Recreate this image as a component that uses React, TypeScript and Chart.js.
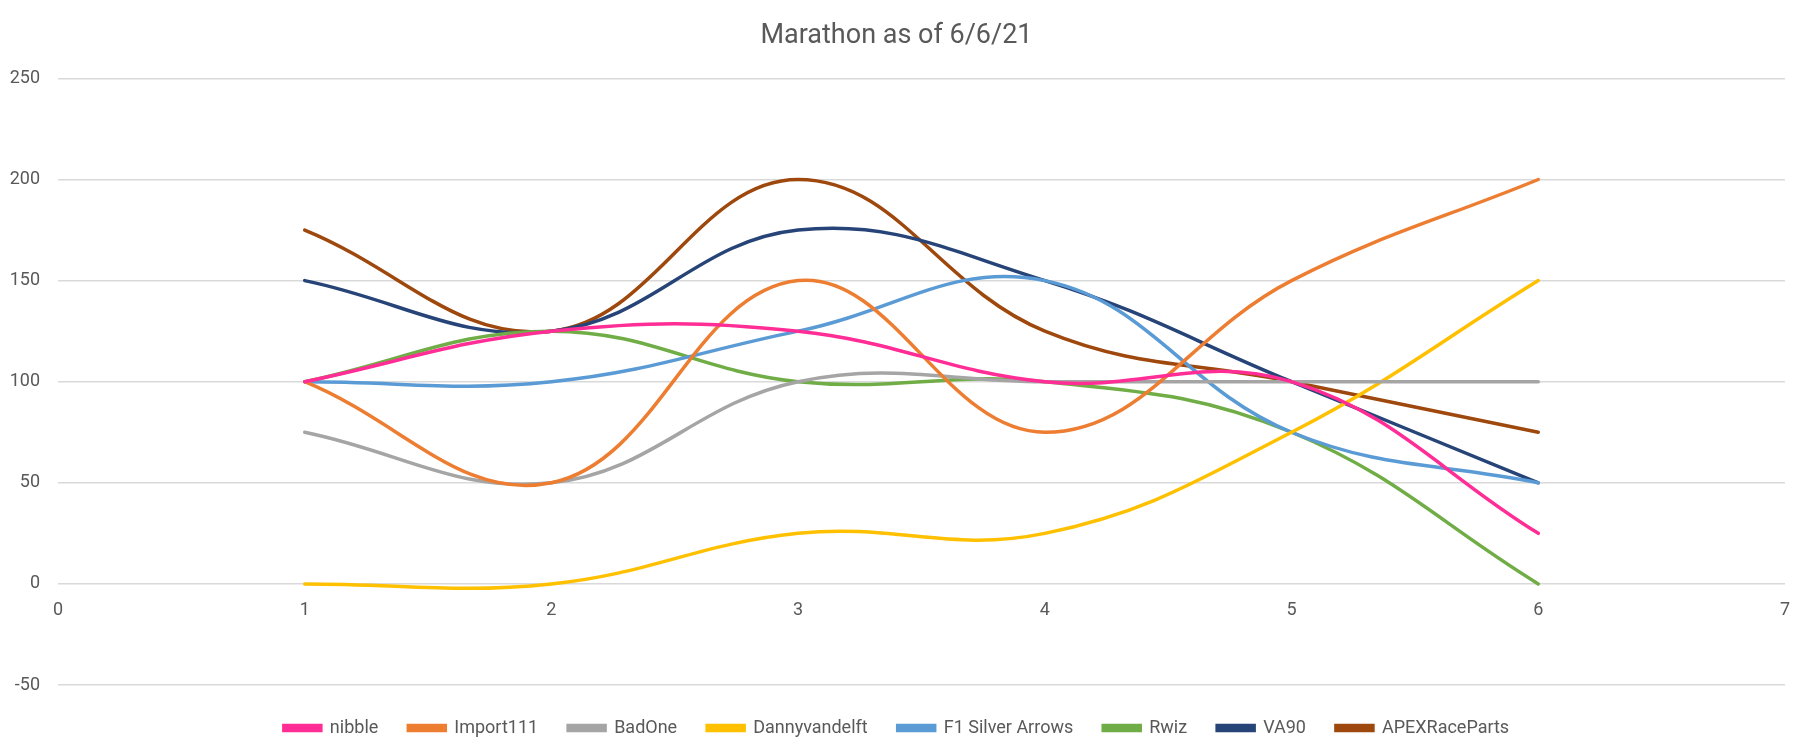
import React, { useEffect, useRef } from "react";
import { Chart, registerables } from "chart.js";

Chart.register(...registerables);

const xValues = [1, 2, 3, 4, 5, 6];
const seriesNames = ["nibble", "Import111", "BadOne", "Dannyvandelft", "F1 Silver Arrows", "Rwiz", "VA90", "APEXRaceParts"];
const nibble = [100, 125, 125, 100, 100, 25];
const import111 = [100, 50, 150, 75, 150, 200];
const badOne = [75, 50, 100, 100, 100, 100];
const dannyvandelft = [0, 0, 25, 25, 75, 150];
const f1SilverArrows = [100, 100, 125, 150, 75, 50];
const rwiz = [100, 125, 100, 100, 75, 0];
const va90 = [150, 125, 175, 150, 100, 50];
const apexRaceParts = [175, 125, 200, 125, 100, 75];
const seriesValues = [nibble, import111, badOne, dannyvandelft, f1SilverArrows, rwiz, va90, apexRaceParts];
const seriesColors = ["#FF2D95", "#ED7D31", "#A5A5A5", "#FFC000", "#5B9BD5", "#70AD47", "#264478", "#9E480E"];
const title = "Marathon as of 6/6/21";

const FONT = "Roboto, 'Open Sans', sans-serif";

export default function App() {
  const ref = useRef<HTMLCanvasElement | null>(null);
  useEffect(() => {
    document.body.style.margin = "0";
    const datasets = seriesNames.map((name, i) => ({
      label: name,
      data: xValues.map((x, j) => ({ x, y: seriesValues[i][j] })),
      borderColor: seriesColors[i],
      backgroundColor: seriesColors[i],
      borderWidth: 3.5,
      pointRadius: 0,
      tension: 0.4,
      fill: false,
      borderCapStyle: "round" as const,
    }));
    const chart = new Chart(ref.current!, {
      type: "line",
      data: { datasets },
      options: {
        animation: false,
        responsive: true,
        maintainAspectRatio: false,
        layout: { padding: { left: 8, right: 29, bottom: 9 } },
        plugins: {
          title: {
            display: true,
            text: title,
            color: "#595959",
            font: { family: FONT, size: 27, weight: "normal" },
            padding: { top: 20, bottom: 26 },
          },
          legend: {
            position: "bottom",
            labels: {
              color: "#595959",
              font: { family: FONT, size: 18 },
              boxWidth: 37,
              boxHeight: 5,
              padding: 30,
            },
          },
          tooltip: { enabled: false },
        },
        scales: {
          x: {
            type: "linear",
            position: { y: 0 },
            min: 0,
            max: 7,
            ticks: { stepSize: 1, color: "#595959", font: { family: FONT, size: 18 }, padding: 8 },
            grid: { display: false },
            border: { display: false },
          },
          gap: {
            type: "linear",
            position: "bottom",
            display: true,
            min: 0,
            max: 1,
            ticks: { display: false },
            grid: { display: false, drawTicks: false },
            border: { display: false },
            afterFit: (s: any) => { s.height = 4; },
          },
          y: {
            type: "linear",
            min: -50,
            max: 250,
            ticks: { stepSize: 50, color: "#595959", font: { family: FONT, size: 18 }, padding: 18 },
            grid: { color: "#D9D9D9", lineWidth: 1.5, drawTicks: false },
            border: { display: false },
            afterFit: (s: any) => { s.width = 50; },
          },
        },
      },
    });
    return () => chart.destroy();
  }, []);
  return (
    <div style={{ position: "absolute", left: 0, top: 0, width: 1814, height: 756 }}>
      <canvas ref={ref} />
    </div>
  );
}
